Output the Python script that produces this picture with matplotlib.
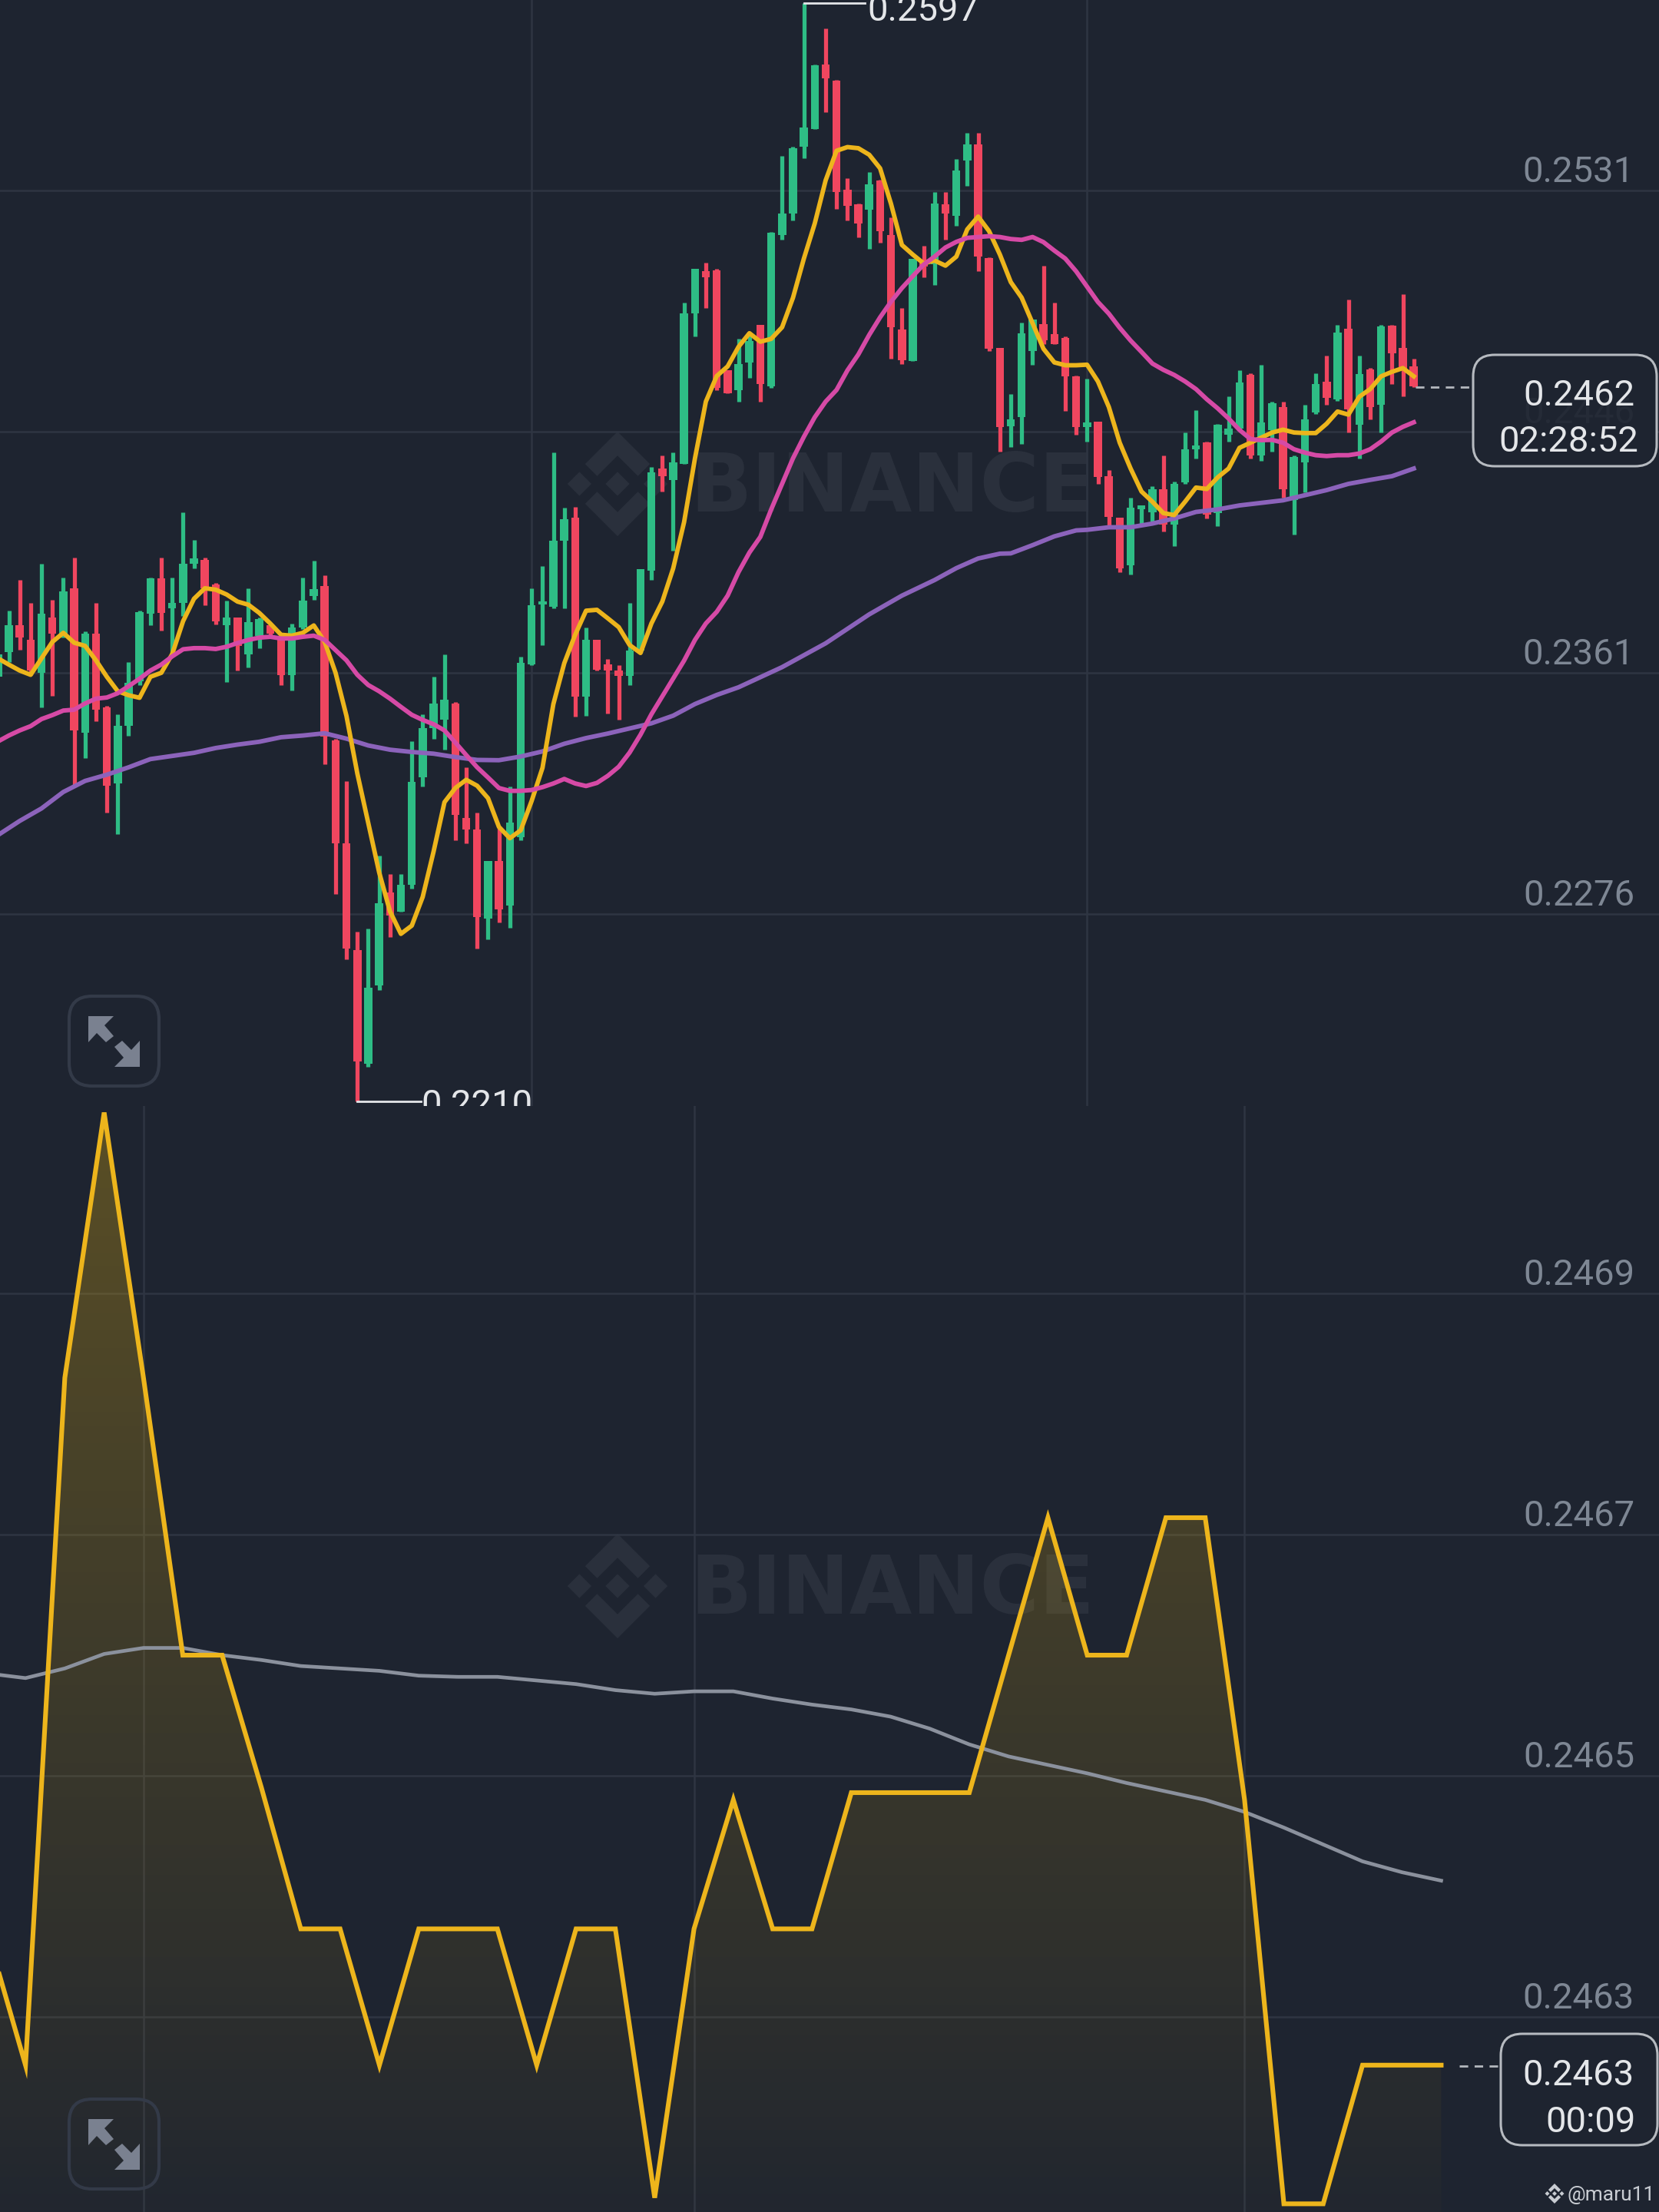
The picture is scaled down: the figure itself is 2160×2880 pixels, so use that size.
import numpy as np
import matplotlib
matplotlib.use("Agg")
import matplotlib.pyplot as plt
from matplotlib.patches import FancyBboxPatch, Polygon

plt.rcParams['font.family'] = ['Roboto', 'DejaVu Sans']

# candles, first one is partly off the left edge
first_candle = -1
opens = [.23596, .23683, .23777, .23726, .23610, .23806, .23748, .23908, .23400, .23748,
         .23487, .23219, .23422, .23581, .23818, .23944, .23838, .23857, .23995, .24009,
         .23922, .23777, .23806, .23676, .23741, .23777, .23726, .23603, .23770, .23882,
         .23915, .23371, .23009, .22632, .22233, .22508, .22835, .22769, .22864, .23241,
         .23415, .23444, .23502, .23099, .23059, .22745, .22948, .22791, .23030, .23640,
         .23850, .23843, .24076, .24156, .23527, .23727, .23640, .23619, .23599, .23689,
         .23969, .24331, .24290, .24345, .24877, .25026, .25028, .24676, .24607, .24704,
         .24835, .24621, .25153, .25229, .25463, .25526, .25753, .25698, .25312, .25260,
         .25243, .25346, .25153, .24821, .24708, .25063, .25049, .25260, .25222, .25415,
         .25473, .25073, .24755, .24479, .24511, .24745, .24840, .24804, .24790, .24655,
         .24475, .24495, .24303, .24157, .23988, .24186, .24177, .24258, .24132, .24281,
         .24398, .24421, .24173, .24448, .24470, .24660, .24375, .24466, .24547, .24218,
         .24353, .24529, .24637, .24574, .24822, .24484, .24678, .24556, .24834, .24754,
         .24691]
highs = [.23690, .23828, .23937, .23857, .23995, .23867, .23947, .24016, .23755, .23857,
         .23494, .23465, .23647, .23828, .23947, .24016, .23947, .24176, .24079, .24016,
         .23926, .23864, .23806, .23908, .23806, .23784, .23741, .23784, .23947, .24006,
         .23955, .23378, .23229, .22697, .22708, .22965, .22900, .22900, .23368, .23465,
         .23596, .23676, .23506, .23277, .23117, .22948, .23067, .23210, .23667, .23908,
         .23985, .24386, .24193, .24196, .23769, .23727, .23658, .23637, .23856, .23976,
         .24335, .24377, .24386, .24915, .25035, .25056, .25035, .24676, .24787, .24807,
         .24835, .25164, .25433, .25463, .25970, .25753, .25882, .25701, .25353, .25263,
         .25374, .25349, .25215, .24895, .25070, .25114, .25305, .25305, .25422, .25512,
         .25512, .25074, .24755, .24593, .24845, .24854, .25045, .24914, .24795, .24657,
         .24646, .24495, .24326, .24157, .24227, .24200, .24267, .24377, .24285, .24457,
         .24535, .24425, .24486, .24585, .24676, .24666, .24696, .24565, .24565, .24375,
         .24556, .24666, .24727, .24836, .24926, .24727, .24685, .24836, .24836, .24944,
         .24716]
lows = [.23596, .23647, .23690, .23603, .23487, .23528, .23734, .23212, .23310, .23439,
        .23117, .23041, .23389, .23567, .23777, .23760, .23676, .23809, .23977, .23847,
        .23780, .23577, .23618, .23629, .23697, .23734, .23567, .23549, .23763, .23867,
        .23288, .22830, .22600, .22100, .22221, .22491, .22679, .22769, .22849, .23209,
        .23378, .23338, .23020, .23009, .22639, .22671, .22730, .22711, .23020, .23637,
        .23708, .23838, .23838, .23455, .23458, .23617, .23466, .23446, .23568, .23680,
        .23938, .24248, .24041, .24345, .24796, .24897, .24607, .24596, .24566, .24649,
        .24566, .24614, .25136, .25205, .25425, .25526, .25585, .25245, .25205, .25146,
        .25104, .25125, .24718, .24697, .24708, .25005, .24976, .25136, .25185, .25325,
        .25026, .24745, .24389, .24407, .24417, .24696, .24768, .24768, .24533, .24448,
        .24425, .24276, .24127, .23965, .23956, .24136, .24141, .24107, .24058, .24276,
        .24366, .24154, .24127, .24425, .24466, .24366, .24356, .24389, .24227, .24096,
        .24245, .24522, .24556, .24567, .24457, .24366, .24504, .24457, .24628, .24585,
        .24617]
closes = [.23676, .23777, .23734, .23618, .23818, .23748, .23896, .23407, .23748, .23480,
          .23212, .23422, .23574, .23824, .23944, .23821, .23857, .23995, .24012, .23908,
          .23792, .23806, .23705, .23789, .23799, .23748, .23603, .23770, .23864, .23905,
          .23386, .23009, .22639, .22240, .22501, .22798, .22755, .22864, .23226, .23415,
          .23502, .23516, .23110, .23059, .22748, .22948, .22777, .23081, .23644, .23847,
          .23861, .24076, .24152, .23527, .23727, .23622, .23617, .23599, .23689, .23976,
          .24317, .24303, .24352, .24877, .25035, .25004, .24614, .24596, .24697, .24780,
          .24628, .25160, .25229, .25459, .25533, .25751, .25705, .25305, .25256, .25194,
          .25332, .25167, .24828, .24711, .25070, .25042, .25263, .25229, .25381, .25473,
          .25077, .24752, .24476, .24504, .24807, .24854, .24781, .24768, .24655, .24475,
          .24493, .24299, .24159, .23979, .24191, .24200, .24258, .24132, .24276, .24398,
          .24412, .24168, .24484, .24470, .24633, .24375, .24493, .24560, .24258, .24371,
          .24502, .24628, .24578, .24808, .24538, .24664, .24547, .24831, .24736, .24678,
          .24619]

ma_fast = [.23661, .23639, .23618, .23603, .23661, .23719, .23751, .23716, .23705, .23654,
           .23596, .23545, .23531, .23522, .23596, .23610, .23676, .23792, .23871, .23908,
           .23903, .23886, .23861, .23850, .23821, .23784, .23744, .23741, .23751, .23777,
           .23719, .23610, .23458, .23255, .23081, .22907, .22769, .22690, .22719, .22820,
           .22980, .23154, .23204, .23233, .23212, .23168, .23067, .23027, .23055, .23158,
           .23275, .23500, .23644, .23744, .23829, .23832, .23802, .23771, .23708, .23680,
           .23784, .23861, .23978, .24141, .24366, .24566, .24656, .24690, .24759, .24807,
           .24777, .24787, .24828, .24932, .25070, .25194, .25346, .25450, .25463, .25459,
           .25436, .25388, .25263, .25118, .25084, .25053, .25063, .25045, .25077, .25173,
           .25218, .25167, .25084, .24987, .24932, .24842, .24752, .24704, .24694, .24694,
           .24696, .24637, .24547, .24421, .24330, .24249, .24213, .24173, .24166, .24213,
           .24263, .24258, .24299, .24330, .24403, .24421, .24439, .24457, .24467, .24457,
           .24455, .24455, .24488, .24531, .24520, .24583, .24610, .24655, .24671, .24684,
           .24655]
ma_mid = [.23368, .23389, .23407, .23422, .23447, .23461, .23477, .23480, .23502, .23519,
          .23523, .23538, .23563, .23589, .23618, .23639, .23668, .23693, .23697, .23697,
          .23694, .23702, .23715, .23726, .23734, .23737, .23731, .23731, .23737, .23741,
          .23726, .23690, .23654, .23603, .23567, .23545, .23519, .23490, .23462, .23444,
          .23429, .23407, .23364, .23320, .23277, .23241, .23204, .23194, .23194, .23197,
          .23207, .23220, .23236, .23220, .23211, .23222, .23247, .23279, .23329, .23392,
          .23464, .23527, .23590, .23653, .23726, .23784, .23825, .23882, .23965, .24034,
          .24089, .24186, .24276, .24366, .24442, .24511, .24566, .24607, .24676, .24732,
          .24801, .24863, .24918, .24966, .25008, .25049, .25077, .25109, .25129, .25143,
          .25146, .25149, .25146, .25139, .25136, .25146, .25128, .25098, .25070, .25025,
          .24971, .24917, .24876, .24826, .24781, .24741, .24700, .24678, .24660, .24637,
          .24610, .24574, .24542, .24506, .24466, .24434, .24430, .24431, .24421, .24398,
          .24386, .24377, .24374, .24377, .24377, .24383, .24398, .24425, .24457, .24477,
          .24493]
ma_slow_idx = [-1, 1, 3, 5, 7, 9, 11, 13, 15, 17, 19, 21, 23, 25, 27, 29, 31, 33, 35, 37,
               39, 41, 43, 45, 47, 49, 51, 53, 55, 57, 59, 61, 63, 65, 67, 71, 75, 79, 82, 85,
               87, 89, 91, 92, 94, 96, 98, 99, 101, 103, 105, 107, 109, 111, 113, 115, 117,
               119, 121, 123, 125, 127, 129]
ma_slow = [.23038, .23088, .23132, .23190, .23229, .23251, .23277, .23306, .23317, .23328,
           .23345, .23357, .23367, .23383, .23389, .23397, .23378, .23354, .23339, .23331,
           .23325, .23313, .23303, .23302, .23315, .23333, .23360, .23380, .23396, .23414,
           .23432, .23459, .23500, .23532, .23559, .23630, .23714, .23816, .23882, .23937,
           .23979, .24013, .24030, .24031, .24060, .24091, .24112, .24114, .24123, .24123,
           .24136, .24154, .24177, .24186, .24200, .24209, .24218, .24236, .24254, .24276,
           .24290, .24303, .24330]

price_ticks = [.2531, .2446, .2361, .2276]
price_labels = ['0.2531', '0.2446', '0.2361', '0.2276']
candle_grid = [48, 99]

# line chart below
line_idx = list(range(-1, 37))
line_price = [.246373, .24626, .24683, .24705, .24683, .24660, .24660, .24649, .246373, .246373,
              .24626, .246373, .246373, .246373, .24626, .246373, .246373, .24615, .246373, .24648,
              .246373, .246373, .246486, .246486, .246486, .246486, .24660, .246714, .24660, .24660,
              .246714, .246714, .24648, .246145, .246145, .24626, .24626, .24626]
line_ma = [.246585, .246581, .246589, .246601, .246606, .246606, .246600, .246596, .246591, .246589,
           .246587, .246583, .246582, .246582, .246579, .246576, .246571, .246568, .246570, .246570,
           .246564, .246559, .246555, .246549, .246539, .246526, .246516, .246509, .246502, .246494,
           .246487, .246480, .246470, .246457, .246443, .246429, .246420, .246413]
line_ticks = [.2469, .2467, .2465, .2463]
line_labels = ['0.2469', '0.2467', '0.2465', '0.2463']
line_grid = [3, 17, 31]

BG = '#1E2430'
GRID = '#2E3542'
GREEN = '#2EBD85'
RED = '#F0465F'
YELLOW = '#EDB51C'
PINK = '#D64AA6'
PURPLE = '#8C63BB'
TICK = '#7E8794'
WHITE = '#E4E6E9'
FAINT = '#2A303C'
FS = 34

W, H = 2160, 2880
SPLIT = 1440

fig = plt.figure(figsize=(21.6, 28.8), dpi=100, facecolor=BG)


def pixel_axes(zorder):
    a = fig.add_axes([0, 0, 1, 1], zorder=zorder)
    a.set_xlim(0, W)
    a.set_ylim(H, 0)
    a.axis('off')
    return a


def logo(a, cx, cy, r, color, zorder=1):
    d = 0.23
    for ox, oy in [(0, 0), (-0.73, 0), (0.73, 0)]:
        pts = [(ox - d, oy), (ox, oy - d), (ox + d, oy), (ox, oy + d)]
        a.add_patch(Polygon([(cx + x * r, cy + y * r) for x, y in pts], fc=color, ec='none', zorder=zorder))
    for s in (-1, 1):
        pts = [(0, s), (0.62, s * 0.38), (0.39, s * 0.15), (0, s * 0.54), (-0.39, s * 0.15), (-0.62, s * 0.38)]
        a.add_patch(Polygon([(cx + x * r, cy + y * r) for x, y in pts], fc=color, ec='none', zorder=zorder))


def expand_icon(a, dy):
    a.add_patch(FancyBboxPatch((90, 1297 + dy), 117, 117, boxstyle='round,pad=0,rounding_size=30',
                               fc='none', ec='#333A48', lw=3))
    arrow = [(115, 1323), (148, 1323), (136, 1335), (148, 1349), (138, 1357), (126, 1345), (115, 1357)]
    a.add_patch(Polygon([(x, y + dy) for x, y in arrow], fc='#7A8190', ec='none'))
    a.add_patch(Polygon([(297 - x, 2712 - y + dy) for x, y in arrow], fc='#7A8190', ec='none'))


def price_box(a, x0, y0, x1, y1, rows):
    a.add_patch(FancyBboxPatch((x0, y0), x1 - x0, y1 - y0, boxstyle='round,pad=0,rounding_size=28',
                               fc=BG, ec='#C3C7CC', lw=2.2, alpha=0.93))
    for txt, right, base in rows:
        a.text(right, base, txt, color=WHITE, fontsize=FS, ha='right', va='baseline')


# watermark sits behind both charts
back = pixel_axes(0)
for dy in (0, 1435):
    logo(back, 804, 630 + dy, 68, FAINT)
    back.text(898, 666 + dy, 'BINANCE', color=FAINT, fontsize=76, fontweight='bold',
              family='DejaVu Sans', ha='left', va='baseline')

# candles
ax = fig.add_axes([0, (H - SPLIT) / H, 1, SPLIT / H], zorder=1)
ax.patch.set_visible(False)
ax.axis('off')
ax.set_xlim(-11.5 / 14.18, (W - 11.5) / 14.18)
ax.set_ylim(0.2531 - (SPLIT - 248) * 0.0085 / 314, 0.2531 + 248 * 0.0085 / 314)

for t in price_ticks:
    ax.axhline(t, color=GRID, lw=1.8, zorder=1)
for g in candle_grid:
    ax.axvline(g, color=GRID, lw=1.8, zorder=1)

idx = np.arange(first_candle, first_candle + len(opens))
o = np.array(opens)
c = np.array(closes)
colors = [GREEN if b >= a else RED for a, b in zip(opens, closes)]
ax.vlines(idx, lows, highs, colors=colors, lw=3.8, zorder=2)
ax.bar(idx, np.abs(c - o), bottom=np.minimum(o, c), width=0.74, color=colors, zorder=3)

ax.plot(ma_slow_idx, ma_slow, color=PURPLE, lw=4.2, zorder=4)
ax.plot(idx, ma_fast, color=YELLOW, lw=4.2, zorder=5)
ax.plot(idx, ma_mid, color=PINK, lw=4.2, zorder=6)

ax.plot([73, 78.6], [.2597, .2597], color=WHITE, lw=2, zorder=7)
ax.annotate('0.2597', xy=(78.6, .2597), xytext=(3, -23), textcoords='offset pixels',
            color=WHITE, fontsize=FS, ha='left', va='baseline', annotation_clip=False, clip_on=True)
ax.plot([32, 37.85], [.2210, .2210], color=WHITE, lw=2, zorder=7)
ax.annotate('0.2210', xy=(37.85, .2210), xytext=(0, -18), textcoords='offset pixels',
            color=WHITE, fontsize=FS, ha='left', va='baseline', annotation_clip=False, clip_on=True)

for t, lab in zip(price_ticks, price_labels):
    ax.annotate(lab, xy=(1, t), xycoords=ax.get_yaxis_transform(), xytext=(-32, 11),
                textcoords='offset pixels', color=TICK, fontsize=FS, ha='right', va='baseline')

# line chart
ax2 = fig.add_axes([0, 0, 1, (H - SPLIT) / H], zorder=1)
ax2.patch.set_visible(False)
ax2.axis('off')
x_lim = (-33.2 / 51.2, (W - 33.2) / 51.2)
y_lim = (0.2463 - (H - 2626) * 0.0002 / 314, 0.2469 + (1684 - SPLIT) * 0.0002 / 314)
ax2.set_xlim(x_lim)
ax2.set_ylim(y_lim)

for t in line_ticks:
    ax2.axhline(t, color=GRID, lw=1.8, zorder=1)
for g in line_grid:
    ax2.axvline(g, color=GRID, lw=1.8, zorder=1)

shade = ax2.fill_between(line_idx, line_price, y_lim[0], color='none')
grad = np.zeros((256, 1, 4))
grad[:, 0, :3] = matplotlib.colors.to_rgb('#F0B90B')
grad[:, 0, 3] = np.linspace(0.29, 0.02, 256)
im = ax2.imshow(grad, extent=[x_lim[0], x_lim[1], y_lim[0], y_lim[1]], origin='upper', aspect='auto', zorder=2)
im.set_clip_path(shade.get_paths()[0], transform=ax2.transData)
ax2.set_xlim(x_lim)
ax2.set_ylim(y_lim)

ax2.plot(line_idx, line_ma, color='#8B919D', lw=3.4, zorder=3)
ax2.plot(line_idx, line_price, color=YELLOW, lw=4.4, zorder=4, solid_joinstyle='miter')

for t, lab in zip(line_ticks, line_labels):
    ax2.annotate(lab, xy=(1, t), xycoords=ax2.get_yaxis_transform(), xytext=(-32, 11),
                 textcoords='offset pixels', color=TICK, fontsize=FS, ha='right', va='baseline')

# things on top: price boxes, icons, name
front = pixel_axes(3)
front.plot([1843, 1918], [504, 504], color='#B4B8BE', lw=2, ls=(0, (4, 3)))
price_box(front, 1918, 462, 2157, 607, [('0.2462', 2128, 528), ('02:28:52', 2133, 588)])
front.plot([1900, 1954], [2690, 2690], color='#B4B8BE', lw=2, ls=(0, (4, 3)))
price_box(front, 1954, 2648, 2158, 2793, [('0.2463', 2128, 2715), ('00:09', 2130, 2776)])
expand_icon(front, 0)
expand_icon(front, 1436)
logo(front, 2024, 2856, 13, '#C8CCD2')
front.text(2041, 2865, '@maru11', color='#C8CCD2', fontsize=19, ha='left', va='baseline')

fig.savefig('out.png', dpi=100, facecolor=BG)
